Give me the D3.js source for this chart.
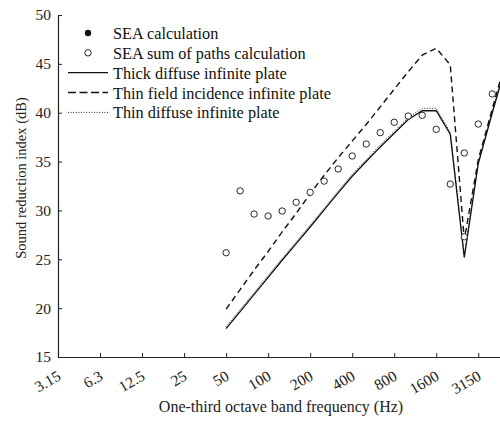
<!DOCTYPE html>
<html>
<head>
<meta charset="utf-8">
<script src="https://cdn.jsdelivr.net/npm/d3@7/dist/d3.min.js"></script>
<style>
  html, body { margin: 0; padding: 0; background: #fff; }
  svg { display: block; font-family: "Liberation Serif", "Times New Roman", serif; }
</style>
</head>
<body>
<svg id="chart" width="500" height="421"></svg>
<script>
// One-third octave bands (Hz)
const bands = ["3.15","4","5","6.3","8","10","12.5","16","20","25","31.5","40","50","63","80","100","125","160","200","250","315","400","500","630","800","1000","1250","1600","2000","2500","3150","4000","5000"];
const tickLabels = ["3.15","6.3","12.5","25","50","100","200","400","800","1600","3150"];

// Bands on which the infinite plate curves are given
const curveBands = ["50","63","80","100","125","160","200","250","315","400","500","630","800","1000","1250","1600","2000","2500","3150","4000","5000"];
const thickDiffuse   = [17.9,19.65,21.4,23.15,24.9,26.6,28.3,30.05,31.8,33.5,35.0,36.5,37.9,39.3,40.2,40.2,37.8,25.2,34.8,40.0,45.0];
const thinField      = [19.9,21.9,23.9,25.8,27.8,29.7,31.7,33.6,35.4,37.1,38.8,40.6,42.4,44.2,45.9,46.6,44.9,27.0,35.2,40.4,45.5];
const thinDiffuse    = [18.1,19.85,21.6,23.35,25.1,26.8,28.5,30.25,32.0,33.7,35.2,36.7,38.1,39.5,40.45,40.45,38.0,25.4,34.9,40.1,45.1];

// SEA sum of paths calculation
const pathBands  = ["50","63","80","100","125","160","200","250","315","400","500","630","800","1000","1250","1600","2000","2500","3150","4000"];
const sumOfPaths = [25.67,32.0,29.63,29.43,29.94,30.83,31.85,33.0,34.24,35.57,36.8,37.96,39.02,39.66,39.73,38.3,32.7,35.88,38.84,41.92];
const extraPathBands  = ["2500"];
const extraSumOfPaths = [27.3];

// SEA calculation (no points visible in the plotted range)
const seaBands = [];
const seaCalc  = [];

const legendLabels = ["SEA calculation","SEA sum of paths calculation","Thick diffuse infinite plate","Thin field incidence infinite plate","Thin diffuse infinite plate"];

const svg = d3.select("#chart");
const mLeft = 58, mRight = 500, mTop = 15, mBottom = 357;

const idx = b => bands.indexOf(b);
const x = d3.scaleLinear().domain([0, 31.55]).range([mLeft, mRight]);
const y = d3.scaleLinear().domain([15, 50]).range([mBottom, mTop]);

// Axes
const yAxis = d3.axisLeft(y).tickValues([15,20,25,30,35,40,45,50]).tickSizeInner(-4).tickSizeOuter(0).tickPadding(7);
const gy = svg.append("g").attr("transform", `translate(${mLeft},0)`).call(yAxis);
gy.select(".domain").attr("stroke", "#222").attr("stroke-width", 1.2);
gy.selectAll(".tick line").attr("stroke", "#222");
gy.selectAll(".tick text").attr("font-size", 15.5).attr("fill", "#222").attr("font-family", "Liberation Serif");

const tickIdx = tickLabels.map(idx);
const xAxis = d3.axisBottom(x).tickValues(tickIdx).tickSizeInner(-4).tickSizeOuter(0).tickFormat("");
const gx = svg.append("g").attr("transform", `translate(0,${mBottom})`).call(xAxis);
gx.select(".domain").attr("stroke", "#222").attr("stroke-width", 1.2);
gx.selectAll(".tick line").attr("stroke", "#222");

svg.append("g").selectAll("text").data(tickLabels).join("text")
  .attr("transform", d => `translate(${x(idx(d)) + 4},${379}) rotate(-30)`)
  .attr("text-anchor", "end")
  .attr("font-size", 15.5)
  .attr("fill", "#222")
  .text(d => d);

// Axis titles
svg.append("text")
  .attr("x", 281).attr("y", 412)
  .attr("text-anchor", "middle").attr("font-size", 16).attr("fill", "#222")
  .text("One-third octave band frequency (Hz)");
svg.append("text")
  .attr("transform", `translate(26,${178}) rotate(-90)`)
  .attr("text-anchor", "middle").attr("font-size", 14.5).attr("fill", "#222")
  .text("Sound reduction index (dB)");

// Curves
const line = d3.line().x(d => x(idx(d.b))).y(d => y(d.v));
const mk = arr => curveBands.map((b, i) => ({b, v: arr[i]}));
const plot = svg.append("g");

plot.append("path").datum(mk(thinDiffuse))
  .attr("d", line).attr("fill", "none").attr("stroke", "#222")
  .attr("stroke-width", 1).attr("stroke-dasharray", "1,1.6");
plot.append("path").datum(mk(thickDiffuse))
  .attr("d", line).attr("fill", "none").attr("stroke", "#111")
  .attr("stroke-width", 1.3);
plot.append("path").datum(mk(thinField))
  .attr("d", line).attr("fill", "none").attr("stroke", "#111")
  .attr("stroke-width", 1.4).attr("stroke-dasharray", "6,4");

// Points
const pts = pathBands.map((b, i) => ({b, v: sumOfPaths[i]}))
  .concat(extraPathBands.map((b, i) => ({b, v: extraSumOfPaths[i]})));
plot.selectAll("circle.open").data(pts).join("circle")
  .attr("class", "open")
  .attr("cx", d => x(idx(d.b))).attr("cy", d => y(d.v)).attr("r", 3.2)
  .attr("fill", "#fff").attr("stroke", "#111").attr("stroke-width", 0.9);
plot.selectAll("circle.filled").data(seaBands.map((b, i) => ({b, v: seaCalc[i]}))).join("circle")
  .attr("class", "filled")
  .attr("cx", d => x(idx(d.b))).attr("cy", d => y(d.v)).attr("r", 3.2)
  .attr("fill", "#111");

// Legend
const lg = svg.append("g");
const rowY = i => 33 + i * 19.85;
lg.append("circle").attr("cx", 88).attr("cy", rowY(0)).attr("r", 3.2).attr("fill", "#111");
lg.append("circle").attr("cx", 88).attr("cy", rowY(1)).attr("r", 3.2).attr("fill", "#fff").attr("stroke", "#111").attr("stroke-width", 0.9);
lg.append("line").attr("x1", 68).attr("x2", 108).attr("y1", rowY(2)).attr("y2", rowY(2))
  .attr("stroke", "#111").attr("stroke-width", 1.3);
lg.append("line").attr("x1", 68).attr("x2", 108).attr("y1", rowY(3)).attr("y2", rowY(3))
  .attr("stroke", "#111").attr("stroke-width", 1.4).attr("stroke-dasharray", "8,3.5");
lg.append("line").attr("x1", 68).attr("x2", 108).attr("y1", rowY(4)).attr("y2", rowY(4))
  .attr("stroke", "#222").attr("stroke-width", 1).attr("stroke-dasharray", "1,1.6");
lg.selectAll("text").data(legendLabels).join("text")
  .attr("x", 113).attr("y", (d, i) => rowY(i) + 6)
  .attr("font-size", 16.3).attr("fill", "#111")
  .text(d => d);
</script>
</body>
</html>
